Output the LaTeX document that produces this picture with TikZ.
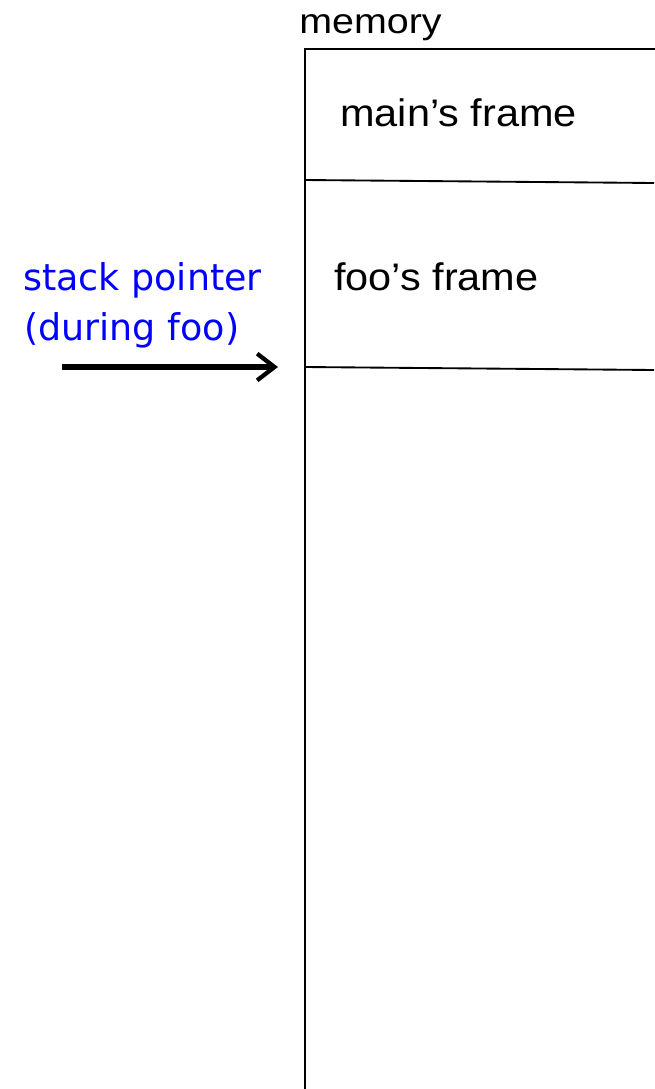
\documentclass[tikz,border=0pt]{standalone}
\usepackage{fontspec}
\usetikzlibrary{arrows.meta}
\newfontfamily\labelfont[FakeStretch=1.08]{Liberation Sans}
\newfontfamily\titlefont[FakeStretch=1.12]{Liberation Sans}
\newfontfamily\notefont[FakeStretch=0.99]{DejaVu Sans}
\definecolor{noteblue}{RGB}{0,0,255}
\tikzset{
  frametext/.style={anchor=base west, inner sep=0pt, font=\labelfont\fontsize{28.8pt}{32pt}\selectfont},
  notetext/.style={anchor=base west, inner sep=0pt, text=noteblue, font=\notefont\fontsize{27.6pt}{32pt}\selectfont},
  wall/.style={line width=1.8pt, line cap=rect},
  divider/.style={line width=1.4pt},
  pointer/.style={line width=4pt, -{Straight Barb[length=13pt,width=20pt,line width=3.2pt]}}
}
\begin{document}
\begin{tikzpicture}[x=0.75pt,y=-0.75pt]
  \useasboundingbox (0,0) rectangle (654,1089);
  % memory column
  \draw[wall] (654,49) -- (305,49) -- (305,1095);
  \draw[divider] (305,180) -- (654,183);
  \draw[divider] (305,367) -- (654,370);
  % labels
  \node[frametext, font=\titlefont\fontsize{26.4pt}{30pt}\selectfont] (mem) at (299,33) {memory};
  \node[frametext] (mainf) at (340,126) {main’s frame};
  \node[frametext] (foof) at (334,290) {foo’s frame};
  \node[notetext] (sp1) at (23,290) {stack pointer};
  \node[notetext] (sp2) at (24,340) {(during foo)};
  % stack pointer arrow
  \coordinate (spstart) at (62,367);
  \coordinate (sptip) at (278,367);
  \draw[pointer] (spstart) -- (sptip);
\end{tikzpicture}
\end{document}
